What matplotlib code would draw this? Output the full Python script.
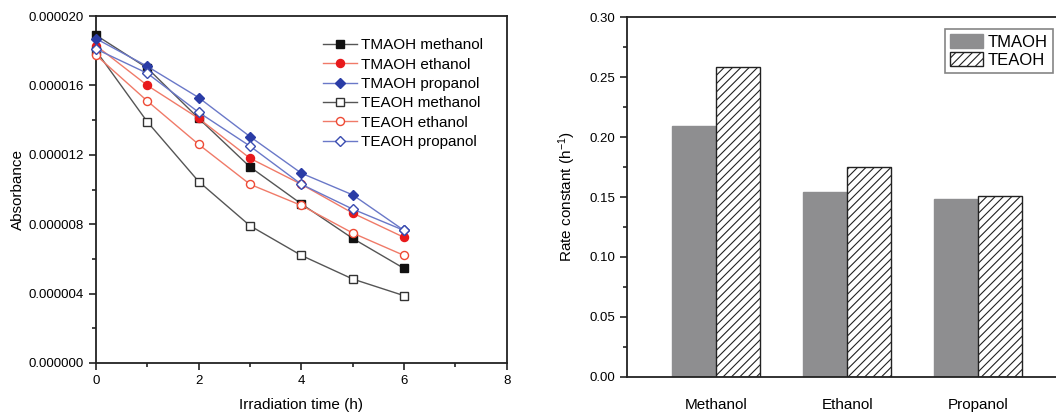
import numpy as np
import matplotlib
matplotlib.use('Agg')
from matplotlib import pyplot as plt
from matplotlib.ticker import MultipleLocator, FormatStrFormatter

plt.rcParams['font.family'] = ['Liberation Sans', 'DejaVu Sans']
plt.rcParams['mathtext.default'] = 'regular'
plt.rcParams['hatch.linewidth'] = 0.8

# left panel: absorbance vs irradiation time
time_h = [0, 1, 2, 3, 4, 5, 6]
tmaoh_methanol = [18.9, 17.0, 14.1, 11.3, 9.17, 7.18, 5.45]
tmaoh_ethanol = [18.3, 16.0, 14.1, 11.8, 10.3, 8.64, 7.24]
tmaoh_propanol = [18.7, 17.1, 15.3, 13.05, 10.94, 9.69, 7.64]
teaoh_methanol = [18.0, 13.9, 10.46, 7.91, 6.2, 4.84, 3.88]
teaoh_ethanol = [17.75, 15.1, 12.6, 10.3, 9.08, 7.49, 6.2]
teaoh_propanol = [18.1, 16.7, 14.45, 12.5, 10.3, 8.87, 7.64]

# right panel: rate constants
solvents = ['Methanol', 'Ethanol', 'Propanol']
rate_tmaoh = [0.209, 0.1545, 0.1486]
rate_teaoh = [0.259, 0.175, 0.151]

fig = plt.figure(figsize=(10.56, 4.12), dpi=100)

ax1 = fig.add_axes([0.0909, 0.119, 0.389, 0.842])
series = [
    (tmaoh_methanol, 'TMAOH methanol', 's', '#111111', '#111111', '#555555'),
    (tmaoh_ethanol, 'TMAOH ethanol', 'o', '#e8191b', '#e8191b', '#f07a68'),
    (tmaoh_propanol, 'TMAOH propanol', 'D', '#2a3ca6', '#2a3ca6', '#6a78c8'),
    (teaoh_methanol, 'TEAOH methanol', 's', 'white', '#333333', '#555555'),
    (teaoh_ethanol, 'TEAOH ethanol', 'o', 'white', '#ee4a35', '#f07a68'),
    (teaoh_propanol, 'TEAOH propanol', 'D', 'white', '#3a4cb0', '#6a78c8'),
]
for vals, name, mk, face, edge, line in series:
    y = np.array(vals) * 1e-6
    ax1.plot(time_h, y, color=line, lw=1.0, marker=mk, ms=5.8 if mk == 'o' else 5.4,
             markerfacecolor=face, markeredgecolor=edge, markeredgewidth=1.0,
             label=name, clip_on=False, zorder=3)

ax1.set_xlim(0, 8)
ax1.set_ylim(0, 0.00002)
ax1.xaxis.set_major_locator(MultipleLocator(2))
ax1.xaxis.set_minor_locator(MultipleLocator(1))
ax1.yaxis.set_major_locator(MultipleLocator(0.000004))
ax1.yaxis.set_minor_locator(MultipleLocator(0.000002))
ax1.yaxis.set_major_formatter(FormatStrFormatter('%.6f'))
ax1.tick_params(which='major', direction='out', length=5, width=1.2, labelsize=9.5, color='#222222')
ax1.tick_params(which='minor', direction='out', length=3, width=1.2, color='#222222')
for s in ax1.spines.values():
    s.set_linewidth(1.3)
    s.set_color('#222222')
ax1.set_xlabel('Irradiation time (h)', fontsize=11, labelpad=8)
ax1.set_ylabel('Absorbance', fontsize=11, labelpad=3)
ax1.legend(loc='upper right', frameon=False, fontsize=11, handlelength=2.2,
           handletextpad=0.3, labelspacing=0.35, borderaxespad=0.6,
           bbox_to_anchor=(0.98, 0.98))

ax2 = fig.add_axes([0.594, 0.0857, 0.4166, 0.872])
xpos = np.arange(1, len(solvents) + 1)
width = 0.336
ax2.bar(xpos - width / 2, rate_tmaoh, width, color='#8e8e90', edgecolor='#8e8e90',
        label='TMAOH', zorder=2)
ax2.bar(xpos + width / 2, rate_teaoh, width, color='white', edgecolor='#222222',
        hatch='////', lw=1.0, label='TEAOH', zorder=2)
ax2.set_xlim(0.32, 3.68)
ax2.set_ylim(0, 0.30)
ax2.set_xticks(xpos)
ax2.set_xticklabels(solvents)
ax2.yaxis.set_major_locator(MultipleLocator(0.05))
ax2.yaxis.set_minor_locator(MultipleLocator(0.025))
ax2.yaxis.set_major_formatter(FormatStrFormatter('%.2f'))
ax2.tick_params(axis='x', length=0, pad=15, labelsize=11)
ax2.tick_params(axis='y', which='major', direction='out', length=5, width=1.2, labelsize=9.5, color='#222222')
ax2.tick_params(axis='y', which='minor', direction='out', length=3, width=1.2, color='#222222')
for s in ax2.spines.values():
    s.set_linewidth(1.3)
    s.set_color('#222222')
ax2.set_ylabel('Rate constant (h$^{-1}$)', fontsize=11, labelpad=8)
leg = ax2.legend(loc='upper right', fontsize=12, fancybox=False, edgecolor='#666666',
                 handlelength=2.0, handleheight=0.9, handletextpad=0.3, labelspacing=0.15,
                 borderpad=0.3, borderaxespad=0.0, bbox_to_anchor=(0.968, 0.968))
leg.get_frame().set_linewidth(1.2)

fig.savefig('out.png', dpi=100)
